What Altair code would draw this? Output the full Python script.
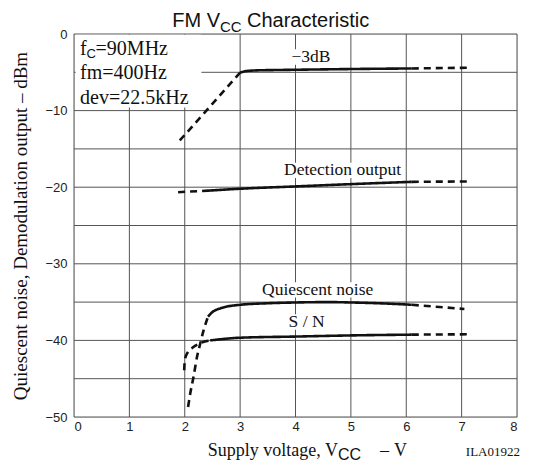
import altair as alt
import pandas as pd

# ---- data ----
m3_dash1_x = [1.91, 3.0]
m3_dash1_y = [-13.9, -5.05]
m3_solid_x = [3.0, 3.1, 3.3, 3.7, 4.5, 5.3, 6.1]
m3_solid_y = [-5.05, -4.85, -4.75, -4.7, -4.62, -4.55, -4.5]
m3_dash2_x = [6.1, 7.15]
m3_dash2_y = [-4.5, -4.4]

det_dash1_x = [1.88, 2.42]
det_dash1_y = [-20.65, -20.45]
det_solid_x = [2.42, 3.0, 4.0, 5.0, 6.1]
det_solid_y = [-20.45, -20.2, -19.9, -19.6, -19.3]
det_dash2_x = [6.1, 7.1]
det_dash2_y = [-19.3, -19.25]

qn_dash1_x = [2.06, 2.1, 2.16, 2.22, 2.28, 2.34, 2.42]
qn_dash1_y = [-48.7, -46.9, -44.7, -42.2, -40.4, -38.7, -36.9]
qn_solid_x = [2.42, 2.5, 2.65, 3.0, 3.5, 4.0, 4.6, 5.0, 5.5, 6.1]
qn_solid_y = [-36.9, -36.3, -35.8, -35.35, -35.15, -35.05, -35.0, -35.05, -35.15, -35.35]
qn_dash2_x = [6.1, 7.05]
qn_dash2_y = [-35.35, -35.9]

sn_dash1_x = [1.99, 2.0, 2.05, 2.15, 2.28, 2.46]
sn_dash1_y = [-43.9, -42.6, -41.6, -40.9, -40.35, -40.0]
sn_solid_x = [2.46, 3.0, 4.0, 5.0, 6.1]
sn_solid_y = [-40.0, -39.65, -39.5, -39.35, -39.25]
sn_dash2_x = [6.1, 7.12]
sn_dash2_y = [-39.25, -39.2]

label_text = ["\u22123dB", "Detection output", "Quiescent noise", "S / N"]
label_x = [4.28, 4.85, 4.4, 4.2]
label_y = [-3.0, -17.8, -33.4, -37.6]

cond_text = ["fm=400Hz", "dev=22.5kHz"]
cond_y = [-5.9, -9.1]

x_ticks = [0, 1, 2, 3, 4, 5, 6, 7, 8]
y_ticks = [-50, -45, -40, -35, -30, -25, -20, -15, -10, -5, 0]

# ---- build tables ----
segs = [
    ("m3a", "dashed", m3_dash1_x, m3_dash1_y),
    ("m3b", "solid", m3_solid_x, m3_solid_y),
    ("m3c", "dashed", m3_dash2_x, m3_dash2_y),
    ("dta", "dashed", det_dash1_x, det_dash1_y),
    ("dtb", "solid", det_solid_x, det_solid_y),
    ("dtc", "dashed", det_dash2_x, det_dash2_y),
    ("qna", "dashed", qn_dash1_x, qn_dash1_y),
    ("qnb", "solid", qn_solid_x, qn_solid_y),
    ("qnc", "dashed", qn_dash2_x, qn_dash2_y),
    ("sna", "dashed", sn_dash1_x, sn_dash1_y),
    ("snb", "solid", sn_solid_x, sn_solid_y),
    ("snc", "dashed", sn_dash2_x, sn_dash2_y),
]
rows = []
for sid, style, xs_, ys_ in segs:
    for i, (a, b) in enumerate(zip(xs_, ys_)):
        rows.append({"seg": sid, "style": style, "x": a, "y": b, "o": i})
df = pd.DataFrame(rows)

labels = pd.DataFrame({"t": label_text, "x": label_x, "y": label_y})
# white backgrounds behind the curve labels (half sizes in data units)
hw = [0.42, 1.1, 1.15, 0.38]
labels["x1"] = labels["x"] - hw
labels["x2"] = labels["x"] + hw
labels["y1"] = labels["y"] + 1.0
labels["y2"] = labels["y"] - 1.0
conds = pd.DataFrame({"t": cond_text, "x": [0.11] * 2, "y": cond_y})

W, H = 443, 383
xs = alt.Scale(domain=[0, 8], nice=False)
ys = alt.Scale(domain=[-50, 0], nice=False)

X_AX = alt.Axis(values=x_ticks, title=None, grid=False, format="d", domain=False, ticks=False,
                labelFont="Liberation Sans", labelFontSize=13, labelColor="#222", labelPadding=3)
Y_AX = alt.Axis(values=y_ticks, format="d",
                labelExpr="datum.value % 10 == 0 ? datum.label : ''",
                title="Quiescent noise, Demodulation output \u2013 dBm",
                titleFont="Liberation Serif", titleFontSize=19, titleFontWeight="normal",
                titleColor="#111", titleX=-54, titleY=H / 2, titleAlign="center",
                titleBaseline="middle", titleAngle=270,
                grid=False, domain=False, ticks=False,
                labelFont="Liberation Sans", labelFontSize=13, labelColor="#222", labelPadding=7)


def X(f="x"):
    return alt.X(f"{f}:Q", scale=xs, axis=X_AX)


def Y(f="y"):
    return alt.Y(f"{f}:Q", scale=ys, axis=Y_AX)


vgrid = alt.Chart(pd.DataFrame({"x": x_ticks})).mark_rule(color="#555", strokeWidth=1).encode(x=X())
hgrid = alt.Chart(pd.DataFrame({"y": y_ticks})).mark_rule(color="#555", strokeWidth=1).encode(y=Y())

box = alt.Chart(pd.DataFrame({"x": [0.03], "x2": [2.3], "y": [-0.1], "y2": [-9.6]})).mark_rect(
    color="white").encode(x=X(), x2="x2", y=Y(), y2="y2")

lab_bg = alt.Chart(labels).mark_rect(color="white").encode(x=X("x1"), x2="x2", y=Y("y1"), y2="y2")

lines = alt.Chart(df).mark_line(color="#111", strokeWidth=2.6, interpolate="monotone").encode(
    x=X(), y=Y(),
    detail="seg:N",
    order="o:Q",
    strokeDash=alt.StrokeDash("style:N", scale=alt.Scale(domain=["solid", "dashed"],
                              range=[[1, 0], [7, 5]]), legend=None),
)

lab = alt.Chart(labels).mark_text(font="Liberation Serif", fontSize=17.5, color="#111",
                                  baseline="middle", align="center").encode(
    x=X(), y=Y(), text="t:N")

cond = alt.Chart(conds).mark_text(font="Liberation Serif", fontSize=20, color="#111",
                                  baseline="alphabetic", align="left").encode(
    x=X(), y=Y(), text="t:N")

# f_C = 90MHz with subscript
fc_df = pd.DataFrame({"t": ["f", "C", "=90MHz"], "x": [0.11] * 3, "y": [-2.8, -2.8, -2.8]})
fc_dx = [0, 6.5, 15.5]
fc_dy = [0, 3, 0]
fc_fs = [20, 13, 20]
fc_parts = []
for i in range(3):
    fc_parts.append(alt.Chart(fc_df.iloc[[i]]).mark_text(
        font="Liberation Sans" if i == 1 else "Liberation Serif",
        fontSize=fc_fs[i], color="#111", baseline="alphabetic", align="left",
        dx=fc_dx[i], dy=fc_dy[i]).encode(x=X(), y=Y(), text="t:N"))


# title "FM V_CC Characteristic" and x-axis title in pixel space
def ptext(t, px, py, size, font, align="left"):
    return alt.Chart(pd.DataFrame({"t": [t]})).mark_text(
        font=font, fontSize=size, color="#111", align=align, baseline="alphabetic").encode(
        x=alt.value(px), y=alt.value(py), text="t:N")


title_parts = [
    ptext("FM V", 146, -7.5, 20, "Liberation Sans", "right"),
    ptext("CC", 146, -2.5, 15, "Liberation Sans"),
    ptext("Characteristic", 173, -7.5, 20, "Liberation Sans"),
]
xt_parts = [
    ptext("Supply voltage, V", 264, H + 39, 18, "Liberation Serif", "right"),
    ptext("CC", 264, H + 43, 16, "Liberation Sans"),
    ptext("\u2013", 306, H + 39, 18, "Liberation Serif"),
    ptext("V", 320, H + 39, 18, "Liberation Serif"),
    ptext("ILA01922", 446, H + 39, 13, "Liberation Serif", "right"),
]

chart = alt.layer(vgrid, hgrid, box, lab_bg, lines, lab, cond, *fc_parts, *title_parts,
                  *xt_parts).properties(
    width=W, height=H,
    autosize=alt.AutoSizeParams(type="none"),
    padding={"left": 66, "top": 26, "right": 18, "bottom": 49},
).configure_view(stroke="black", strokeWidth=1.4).configure(background="white")

chart.save("out.html", embed_options={"renderer": "svg", "actions": False})
